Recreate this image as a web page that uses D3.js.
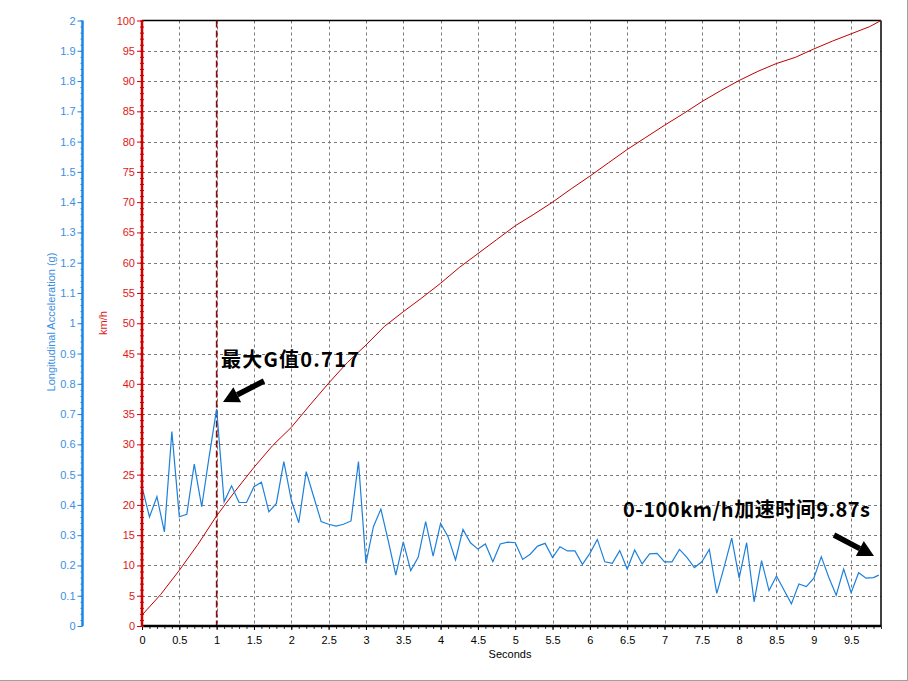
<!DOCTYPE html>
<html><head><meta charset="utf-8">
<script src="https://cdn.jsdelivr.net/npm/d3@7"></script>
<style>
html,body{margin:0;padding:0;background:#fff;}
svg{display:block;}
text{font-family:"Liberation Sans",Arial,sans-serif;}
</style></head><body>
<svg id="c" width="908" height="681"></svg>
<script>
// ---- data ----
const speedTime = [0,0.25,0.5,0.75,1,1.25,1.5,1.75,2,2.25,2.5,2.75,3,3.25,3.5,3.75,4,4.25,4.5,4.75,5,5.25,5.5,5.75,6,6.25,6.5,6.75,7,7.25,7.5,7.75,8,8.25,8.5,8.75,9,9.25,9.5,9.75,9.9];
const speedKmh  = [1.8,5.2,9.2,13.5,18.2,22.3,26.2,29.8,32.8,36.5,40.1,43.5,46.4,49.5,51.9,54.2,56.6,59.2,61.5,63.8,66.1,68,70,72.2,74.3,76.5,78.7,80.7,82.7,84.6,86.6,88.4,90.1,91.6,92.9,93.9,95.3,96.6,97.8,99,100];
const accelTime = [0,0.1,0.2,0.3,0.4,0.5,0.6,0.7,0.8,0.9,1.0,1.1,1.2,1.3,1.4,1.5,1.6,1.7,1.8,1.9,2.0,2.1,2.2,2.3,2.4,2.5,2.6,2.7,2.8,2.9,3.0,3.1,3.2,3.3,3.4,3.5,3.6,3.7,3.8,3.9,4.0,4.1,4.2,4.3,4.4,4.5,4.6,4.7,4.8,4.9,5.0,5.1,5.2,5.3,5.4,5.5,5.6,5.7,5.8,5.9,6.0,6.1,6.2,6.3,6.4,6.5,6.6,6.7,6.8,6.9,7.0,7.1,7.2,7.3,7.4,7.5,7.6,7.7,7.8,7.9,8.0,8.1,8.2,8.3,8.4,8.5,8.6,8.7,8.8,8.9,9.0,9.1,9.2,9.3,9.4,9.5,9.6,9.7,9.8,9.87];
const accelG    = [0.46,0.36,0.427,0.311,0.642,0.361,0.369,0.535,0.394,0.56,0.717,0.41,0.463,0.408,0.408,0.46,0.475,0.377,0.405,0.543,0.416,0.341,0.51,0.427,0.345,0.336,0.330,0.336,0.347,0.543,0.207,0.328,0.386,0.28,0.168,0.278,0.183,0.227,0.345,0.231,0.339,0.295,0.218,0.319,0.275,0.254,0.271,0.212,0.271,0.277,0.275,0.220,0.237,0.264,0.273,0.226,0.262,0.248,0.248,0.204,0.240,0.286,0.212,0.207,0.249,0.188,0.251,0.205,0.238,0.240,0.212,0.212,0.253,0.227,0.193,0.212,0.253,0.108,0.196,0.290,0.158,0.275,0.080,0.216,0.117,0.165,0.119,0.073,0.139,0.130,0.158,0.229,0.161,0.102,0.188,0.110,0.176,0.158,0.160,0.168];
const xTicks = [0,0.5,1,1.5,2,2.5,3,3.5,4,4.5,5,5.5,6,6.5,7,7.5,8,8.5,9,9.5];
const speedTicks = [0,5,10,15,20,25,30,35,40,45,50,55,60,65,70,75,80,85,90,95,100];
const gTicks = [0,0.1,0.2,0.3,0.4,0.5,0.6,0.7,0.8,0.9,1,1.1,1.2,1.3,1.4,1.5,1.6,1.7,1.8,1.9,2];
const markerTime = 1;
const xTitle = "Seconds", speedTitle = "km/h", gTitle = "Longitudinal Acceleration (g)";
const note1 = "最大G值0.717", note2 = "0-100km/h加速时间9.87s";

// ---- layout ----
const svg = d3.select("#c");
const L = 142, R = 881, T = 20.5, B = 626;
const x = d3.scaleLinear([0, 9.9], [L, R]);
const yS = d3.scaleLinear([0, 100], [B, T]);
const yG = d3.scaleLinear([0, 2], [B, T]);
const BLUE = "#1a86e8", BLUE_TXT = "#3b8fe2", RED = "#d00000", RED_TXT = "#e01818";

// window edge frame
svg.append("line").attr("x1",0).attr("x2",908).attr("y1",680.5).attr("y2",680.5).attr("stroke","#a0a0a0");
svg.append("line").attr("x1",907.5).attr("x2",907.5).attr("y1",0).attr("y2",681).attr("stroke","#a0a0a0");

// grid
const grid = svg.append("g").attr("stroke","#7a7a7a").attr("stroke-width",1).attr("stroke-dasharray","3,3");
grid.selectAll(".gv").data(xTicks.filter(d=>d>0)).join("line")
  .attr("x1",d=>Math.round(x(d))+0.5).attr("x2",d=>Math.round(x(d))+0.5).attr("y1",T).attr("y2",B);
grid.selectAll(".gh").data(speedTicks.filter(d=>d>0 && d<100)).join("line")
  .attr("x1",L).attr("x2",R).attr("y1",d=>Math.round(yS(d))+0.5).attr("y2",d=>Math.round(yS(d))+0.5);

// frame top/right
svg.append("line").attr("x1",L).attr("x2",R).attr("y1",T).attr("y2",T).attr("stroke","#000").attr("stroke-width",1.5);
svg.append("line").attr("x1",R).attr("x2",R).attr("y1",T).attr("y2",B).attr("stroke","#000").attr("stroke-width",1.5);

// marker line at 1 s
svg.append("line").attr("x1",x(markerTime)).attr("x2",x(markerTime)).attr("y1",T).attr("y2",B)
  .attr("stroke","#8b0a0a").attr("stroke-width",1.6).attr("stroke-dasharray","7,3");

// series
const speedLine = d3.line().x((d,i)=>x(speedTime[i])).y(d=>yS(d));
svg.append("path").attr("d",speedLine(speedKmh)).attr("fill","none").attr("stroke","#c00000").attr("stroke-width",1);
const gLine = d3.line().x((d,i)=>x(accelTime[i])).y(d=>yG(d));
svg.append("path").attr("d",gLine(accelG)).attr("fill","none").attr("stroke","#1c80dc").attr("stroke-width",1.2);

// x axis
const xMinor = svg.append("g").attr("transform",`translate(0,${B})`)
  .call(d3.axisBottom(x).tickValues(d3.range(0,100).map(i=>i/10)).tickSize(3).tickFormat(""));
xMinor.select(".domain").remove();
xMinor.selectAll("line").attr("stroke","#333");
const xAx = svg.append("g").attr("transform",`translate(0,${B})`)
  .call(d3.axisBottom(x).tickValues(xTicks).tickSize(4).tickPadding(6).tickFormat(d3.format("~g")));
xAx.select(".domain").attr("stroke","#000").attr("stroke-width",2.5).attr("d",`M${L},0H${R}`);
xAx.selectAll("text").attr("font-size",11).attr("fill","#000");
svg.append("text").attr("x",510).attr("y",658).attr("text-anchor","middle").attr("font-size",11).text(xTitle);

// speed (red) axis
const sMinor = svg.append("g").attr("transform",`translate(${L},0)`)
  .call(d3.axisLeft(yS).tickValues(d3.range(0,101)).tickSize(3).tickFormat(""));
sMinor.select(".domain").remove();
sMinor.selectAll("line").attr("stroke",RED).attr("x2",-2).attr("x1",2);
const sAx = svg.append("g").attr("transform",`translate(${L},0)`)
  .call(d3.axisLeft(yS).tickValues(speedTicks).tickSize(5).tickPadding(2).tickFormat(d3.format("d")));
sAx.select(".domain").attr("stroke",RED).attr("stroke-width",2.5).attr("d",`M0,${T}V${B}`);
sAx.selectAll("line").attr("stroke",RED);
sAx.selectAll("text").attr("font-size",11).attr("fill",RED_TXT);
svg.append("text").attr("transform",`translate(107,323) rotate(-90)`).attr("text-anchor","middle")
  .attr("font-size",11).attr("fill",RED_TXT).text(speedTitle);

// g (blue) axis
const gx = 82.5;
const gMinor = svg.append("g").attr("transform",`translate(${gx},0)`)
  .call(d3.axisLeft(yG).tickValues(d3.range(0,101).map(i=>i/50)).tickSize(2).tickFormat(""));
gMinor.select(".domain").remove();
gMinor.selectAll("line").attr("stroke",BLUE);
const gAx = svg.append("g").attr("transform",`translate(${gx},0)`)
  .call(d3.axisLeft(yG).tickValues(gTicks).tickSize(5).tickPadding(2).tickFormat(d3.format("~g")));
gAx.select(".domain").attr("stroke",BLUE).attr("stroke-width",2.5).attr("d",`M0,${T}V${B}`);
gAx.selectAll("line").attr("stroke",BLUE);
gAx.selectAll("text").attr("font-size",11).attr("fill",BLUE_TXT);
svg.append("text").attr("transform",`translate(55,322) rotate(-90)`).attr("text-anchor","middle")
  .attr("font-size",11).attr("fill",BLUE_TXT).text(gTitle);

// annotations
const cjk = '"Noto Sans CJK SC","Microsoft YaHei",sans-serif';
svg.append("text").attr("x",221).attr("y",367).attr("font-size",20).attr("font-weight","bold")
  .attr("textLength",138).attr("lengthAdjust","spacing")
  .style("font-family",cjk).attr("fill","#000").text(note1);
svg.append("text").attr("x",623).attr("y",517).attr("font-size",20).attr("font-weight","bold")
  .attr("textLength",247).attr("lengthAdjust","spacing")
  .style("font-family",cjk).attr("fill","#000").text(note2);

function arrow(x1,y1,x2,y2){
  const a = Math.atan2(y2-y1,x2-x1), hl = 16, hw = 8.5;
  const bx = x2 - hl*Math.cos(a), by = y2 - hl*Math.sin(a);
  svg.append("line").attr("x1",x1).attr("y1",y1).attr("x2",bx).attr("y2",by)
    .attr("stroke","#000").attr("stroke-width",5.5).attr("stroke-linecap","butt");
  const px = -Math.sin(a), py = Math.cos(a);
  svg.append("path").attr("d",`M${x2},${y2}L${bx+px*hw},${by+py*hw}L${bx-px*hw},${by-py*hw}Z`).attr("fill","#000");
}
arrow(264,381,223,402);
arrow(834,535,874,556);
</script></body></html>
